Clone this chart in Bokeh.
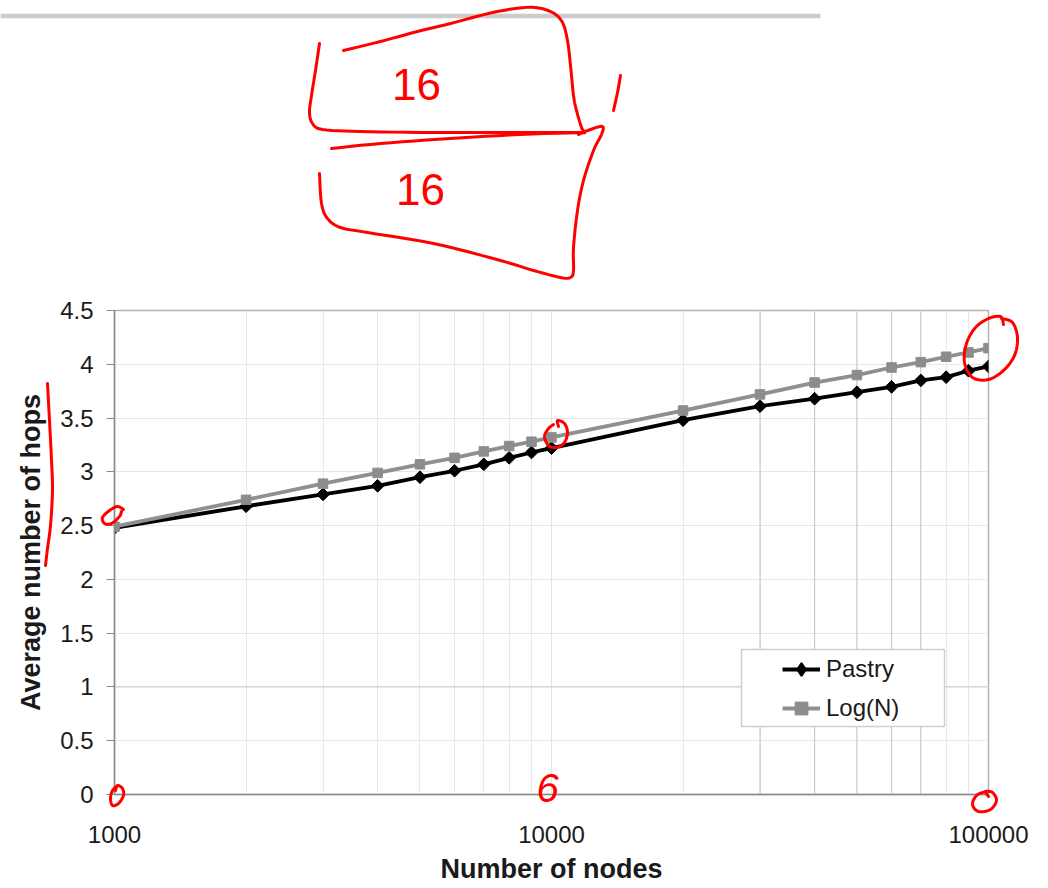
import math
from bokeh.plotting import figure
from bokeh.models import (Range1d, FixedTicker, NumeralTickFormatter, Legend, LegendItem,
                          PolyAnnotation, Span, GridBox)
from bokeh.core.properties import value
from bokeh.embed import file_html
from bokeh.resources import INLINE

# ---------------- data ----------------
nodes = [1000, 2000, 3000, 4000, 5000, 6000, 7000, 8000, 9000, 10000,
         20000, 30000, 40000, 50000, 60000, 70000, 80000, 90000, 100000]
pastry = [2.48, 2.68, 2.79, 2.87, 2.95, 3.01, 3.07, 3.13, 3.18, 3.22,
          3.48, 3.61, 3.68, 3.74, 3.79, 3.85, 3.88, 3.94, 3.98]
log_n = [2.49, 2.74, 2.89, 2.99, 3.07, 3.13, 3.19, 3.24, 3.28, 3.32,
         3.57, 3.72, 3.83, 3.90, 3.97, 4.02, 4.07, 4.11, 4.15]
series_names = ["Pastry", "Log(N)"]
x_ticks = [1000, 10000, 100000]
x_minor = [2000, 3000, 4000, 5000, 6000, 7000, 8000, 9000,
           20000, 30000, 40000, 50000, 60000, 70000, 80000, 90000]
dark_grid = [30000, 40000, 50000, 60000, 70000]
dark_ygrid = [1]
y_ticks = [0, 0.5, 1, 1.5, 2, 2.5, 3, 3.5, 4, 4.5]

# ---------------- layout ----------------
W, H = 1048, 888
ML, MT = 114, 310
FW, FH = 874, 484
MR, MB = W - ML - FW, H - MT - FH
FL, FB = ML, MT + FH          # frame left / bottom in page px
FONT = "Liberation Sans"

p = figure(width=W, height=H, x_axis_type="log",
           x_range=Range1d(1000, 100000), y_range=Range1d(0, 4.5),
           output_backend="svg", toolbar_location=None,
           min_border_left=ML, min_border_right=MR,
           min_border_top=MT, min_border_bottom=MB)
p.frame_align = False
p.background_fill_color = "white"
p.border_fill_color = "white"
p.outline_line_color = "#b4b4b4"
p.outline_line_width = 1.5

# axes
p.xaxis.ticker = FixedTicker(ticks=x_ticks, minor_ticks=x_minor)
p.xaxis.formatter = NumeralTickFormatter(format="0")
p.xaxis.major_tick_out = 0
p.xaxis.major_tick_in = 0
p.xaxis.major_tick_line_color = None
p.xaxis.minor_tick_line_color = None
p.xaxis.major_label_standoff = 27
p.xaxis.axis_line_color = "#8a8a8a"
p.xaxis.axis_line_width = 1.5
p.xaxis.axis_label = "Number of nodes"
p.xaxis.axis_label_standoff = 8

p.yaxis.ticker = FixedTicker(ticks=y_ticks)
p.yaxis.formatter = NumeralTickFormatter(format="0.[0]")
p.yaxis.major_tick_out = 8
p.yaxis.major_tick_in = 0
p.yaxis.major_tick_line_color = "#8a8a8a"
p.yaxis.minor_tick_line_color = None
p.yaxis.major_label_standoff = 13
p.yaxis.axis_line_color = "#8a8a8a"
p.yaxis.axis_line_width = 1.5
p.yaxis.axis_label = "Average number of hops"
p.yaxis.axis_label_standoff = 11

for ax in (p.xaxis, p.yaxis):
    ax.major_label_text_font = FONT
    ax.major_label_text_font_size = "24px"
    ax.major_label_text_color = "#1a1a1a"
    ax.axis_label_text_font = FONT
    ax.axis_label_text_font_style = "bold"
    ax.axis_label_text_font_size = "27px"
    ax.axis_label_text_color = "#1a1a1a"

# grids
p.xgrid.grid_line_color = "#e4e4e4"
p.xgrid.minor_grid_line_color = "#e8e8e8"
p.ygrid.grid_line_color = "#e6e6e6"
for v in dark_grid:
    p.add_layout(Span(location=v, dimension="height", line_color="#cccccc",
                      line_width=1.2, level="underlay"))
for v in dark_ygrid:
    p.add_layout(Span(location=v, dimension="width", line_color="#d2d2d2",
                      line_width=1.2, level="underlay"))

# series
pl = p.line(nodes, pastry, line_color="black", line_width=3.8)
pd = p.scatter(nodes[:1], pastry[:1], marker="diamond", size=8,
               fill_color="black", line_color="black", line_width=2)   # legend symbol
ps = p.scatter(nodes, pastry, marker="square", angle=math.pi / 4, size=9,
               fill_color="black", line_color="black", line_width=1)
ll = p.line(nodes, log_n, line_color="#8f8f8f", line_width=3.8)
ls = p.scatter(nodes, log_n, marker="square", size=9.5,
               fill_color="#8c8c8c", line_color="#8c8c8c")

# legend frame (inside the plot frame)
bx = [741, 944, 944, 741]
by = [649, 649, 726, 726]
p.add_layout(PolyAnnotation(xs=[x - FL for x in bx], ys=[FB - y for y in by],
                            xs_units="screen", ys_units="screen",
                            fill_color="white", fill_alpha=1,
                            line_color="#cfcfcf", line_alpha=1, line_width=1.5))

legend = Legend(items=[LegendItem(label=series_names[0], renderers=[pl, pd]),
                       LegendItem(label=series_names[1], renderers=[ll, ls])],
                location=(782 - FL, FB - 724), orientation="vertical",
                border_line_alpha=0, background_fill_alpha=0,
                padding=0, margin=0, spacing=7, glyph_width=38,
                glyph_height=32, label_height=32, label_standoff=6,
                label_text_font=FONT, label_text_font_size="24px",
                label_text_color="#1a1a1a")
p.add_layout(legend)

# ---------------- transparent overlay in page pixels (hand annotations) ----------------
ov = figure(width=W, height=H, x_range=Range1d(0, W), y_range=Range1d(H, 0),
            output_backend="svg", toolbar_location=None,
            x_axis_location=None, y_axis_location=None,
            min_border=0, min_border_left=0, min_border_right=0,
            min_border_top=0, min_border_bottom=0)
ov.frame_align = False
ov.title.visible = False
ov.grid.visible = False
ov.outline_line_color = None
ov.background_fill_alpha = 0
ov.border_fill_alpha = 0


def smooth(pts, n=6):
    P = [pts[0]] + list(pts) + [pts[-1]]
    out = []
    for i in range(1, len(P) - 2):
        p0, p1, p2, p3 = P[i - 1], P[i], P[i + 1], P[i + 2]
        for k in range(n):
            t = k / n
            t2, t3 = t * t, t * t * t
            pt = []
            for d in range(2):
                pt.append(0.5 * (2 * p1[d] + (-p0[d] + p2[d]) * t
                                 + (2 * p0[d] - 5 * p1[d] + 4 * p2[d] - p3[d]) * t2
                                 + (-p0[d] + 3 * p1[d] - 3 * p2[d] + p3[d]) * t3))
            out.append(tuple(pt))
    out.append(tuple(pts[-1]))
    return out


def ink(pts, width=3):
    s = smooth(pts)
    ov.line([a for a, b in s], [b for a, b in s], line_color="#ff0000",
            line_width=width, line_join="round", line_cap="round")


# grey rule at the top of the slide
ov.line([0, 820], [15.5, 15.5], line_color="#cccccc", line_width=4.5)

ink([(319, 43), (315, 70), (311, 95), (309, 112), (312, 123), (322, 129), (360, 131),
     (433, 132), (520, 132), (577, 132), (584, 132), (581, 127), (576, 110), (573, 95),
     (570, 65), (567, 40), (562, 22), (552, 12), (535, 7), (515, 8), (488, 13),
     (450, 23), (417, 31), (380, 41), (343, 50)])
ink([(583, 132), (520, 134), (450, 138), (380, 143), (331, 148)])
ink([(578, 134), (590, 129), (602, 126), (601, 134), (593, 150), (583, 180), (577, 210),
     (573, 247), (573, 270), (570, 277), (560, 277), (533, 270), (500, 260), (433, 243),
     (367, 232), (340, 227), (327, 218), (321, 203), (319, 173)])
ink([(620, 75), (617, 92), (613, 110)])

ink([(47, 383), (49, 420), (51, 460), (52, 490), (50, 525), (47, 548), (45, 565)])
ink([(123, 509), (117, 506), (109, 510), (102, 517), (104, 523), (111, 523),
     (119, 516), (121, 511)])
ink([(553, 424), (548, 428), (544, 436), (548, 445), (556, 447), (564, 442),
     (567, 432), (564, 423), (557, 420), (558, 426)])
ink([(1001, 318), (1012, 322), (1017, 337), (1014, 355), (1003, 370), (988, 379),
     (972, 377), (964, 362), (966, 343), (975, 327), (988, 318), (1000, 316), (1003, 324)])
ink([(117, 785), (112, 790), (110, 798), (112, 805), (118, 803), (123, 795),
     (122, 788), (117, 785), (115, 790)])
ink([(985, 791), (976, 795), (972, 804), (978, 811), (990, 809), (996, 800),
     (992, 792), (985, 791), (988, 796)])

ov.text(x=[416, 420], y=[84, 189], text=["16", "16"], text_font=value(FONT),
        text_font_size="44px", text_color="#ff0000", text_align="center",
        text_baseline="middle")
ov.text(x=[547], y=[787], text=["6"], text_font=value(FONT), text_font_style="italic",
        text_font_size="40px", text_color="#ff0000", text_align="center",
        text_baseline="middle")

layout = GridBox(children=[(p, 0, 0), (ov, 0, 0)])
open("out.html", "w").write(file_html(layout, INLINE))
